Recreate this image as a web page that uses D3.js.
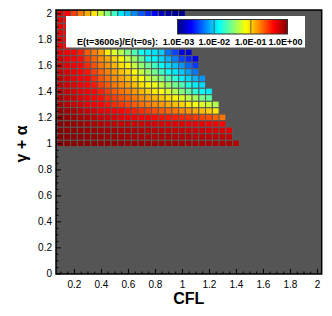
<!DOCTYPE html>
<html><head><meta charset="utf-8">
<script src="https://cdn.jsdelivr.net/npm/d3@7/dist/d3.min.js"></script>
<style>body{margin:0;background:#fff}svg{display:block}</style>
</head><body><svg id="c" width="332" height="316"></svg>
<script>
// CFL categories (cell centres) and gamma+alpha rows
const cfl = [0.1,0.15,0.2,0.25,0.3,0.35,0.4,0.45,0.5,0.55,0.6,0.65,0.7,0.75,0.8,0.85,0.9,0.95,1.0,1.05,1.1,1.15,1.2,1.25,1.3,1.35,1.4];
const gammaAlpha = [1.0,1.05,1.1,1.15,1.2,1.25,1.3,1.35,1.4,1.45,1.5,1.55,1.6,1.65,1.7,1.75,1.8,1.85,1.9,1.95,2.0];

// log10( E(t=3600s)/E(t=0s) ) per row, starting at CFL 0.1
const logE_100 = [-0.02,-0.02,-0.03,-0.03,-0.04,-0.04,-0.05,-0.05,-0.06,-0.06,-0.07,-0.07,-0.08,-0.08,-0.09,-0.09,-0.1,-0.1,-0.11,-0.11,-0.12,-0.12,-0.13,-0.13,-0.14,-0.14,-0.15];
const logE_105 = [-0.02,-0.03,-0.04,-0.05,-0.06,-0.07,-0.08,-0.09,-0.1,-0.11,-0.12,-0.13,-0.14,-0.14,-0.15,-0.15,-0.16,-0.16,-0.17,-0.17,-0.18,-0.18,-0.19,-0.19,-0.2,-0.2];
const logE_110 = [-0.02,-0.04,-0.05,-0.06,-0.07,-0.08,-0.09,-0.1,-0.11,-0.12,-0.13,-0.14,-0.15,-0.16,-0.17,-0.18,-0.19,-0.2,-0.21,-0.22,-0.23,-0.24,-0.25,-0.26,-0.27,-0.28];
const logE_115 = [-0.03,-0.05,-0.07,-0.09,-0.11,-0.13,-0.15,-0.17,-0.19,-0.2,-0.21,-0.22,-0.23,-0.24,-0.25,-0.26,-0.27,-0.28,-0.29,-0.3,-0.31,-0.32,-0.33,-0.35,-0.37];
const logE_120 = [-0.04,-0.07,-0.1,-0.13,-0.16,-0.19,-0.22,-0.25,-0.28,-0.31,-0.33,-0.35,-0.37,-0.38,-0.4,-0.42,-0.44,-0.46,-0.48,-0.5,-0.53,-0.56,-0.6,-0.66,-0.72];
const logE_125 = [-0.06,-0.1,-0.14,-0.18,-0.22,-0.26,-0.3,-0.33,-0.36,-0.38,-0.42,-0.46,-0.5,-0.55,-0.6,-0.64,-0.68,-0.72,-0.77,-0.82,-0.87,-0.93,-0.99,-1.05];
const logE_130 = [-0.11,-0.17,-0.22,-0.27,-0.32,-0.35,-0.38,-0.43,-0.49,-0.53,-0.58,-0.64,-0.7,-0.74,-0.79,-0.82,-0.88,-0.94,-1.0,-1.07,-1.16,-1.23,-1.28,-1.35];
const logE_135 = [-0.13,-0.19,-0.24,-0.29,-0.33,-0.38,-0.41,-0.5,-0.55,-0.61,-0.67,-0.73,-0.79,-0.85,-0.91,-0.97,-1.03,-1.1,-1.22,-1.31,-1.4,-1.52,-1.6];
const logE_140 = [-0.15,-0.21,-0.26,-0.32,-0.36,-0.38,-0.46,-0.55,-0.64,-0.7,-0.76,-0.82,-0.91,-0.99,-1.07,-1.14,-1.23,-1.35,-1.49,-1.6,-1.75,-1.86,-1.93];
const logE_145 = [-0.17,-0.24,-0.29,-0.34,-0.38,-0.43,-0.55,-0.64,-0.73,-0.79,-0.85,-0.94,-1.03,-1.1,-1.19,-1.3,-1.42,-1.54,-1.65,-1.8,-1.92,-1.98];
const logE_150 = [-0.19,-0.25,-0.31,-0.36,-0.38,-0.49,-0.61,-0.7,-0.79,-0.85,-0.94,-1.03,-1.14,-1.28,-1.38,-1.5,-1.63,-1.75,-1.92,-2.0,-2.09,-2.18];
const logE_155 = [-0.2,-0.26,-0.32,-0.37,-0.43,-0.55,-0.67,-0.76,-0.84,-0.94,-1.02,-1.14,-1.3,-1.42,-1.55,-1.7,-1.85,-1.95,-2.03,-2.15,-2.27];
const logE_160 = [-0.22,-0.29,-0.34,-0.38,-0.49,-0.61,-0.73,-0.81,-0.91,-1.03,-1.14,-1.3,-1.45,-1.57,-1.7,-1.88,-1.97,-2.06,-2.18,-2.33,-2.45];
const logE_165 = [-0.25,-0.32,-0.36,-0.4,-0.55,-0.67,-0.79,-0.88,-1.0,-1.1,-1.28,-1.42,-1.58,-1.85,-1.9,-1.99,-2.1,-2.25,-2.43,-2.53,-2.7];
const logE_170 = [-0.28,-0.34,-0.36,-0.46,-0.64,-0.74,-0.86,-1.07,-1.23,-1.35,-1.5,-1.65,-1.83,-1.92,-1.96,-2.03,-2.3,-2.43,-2.71,-2.77];
const logE_175 = [-0.29,-0.37];
const logE_180 = [-0.29,-0.37];
const logE_185 = [-0.3,-0.38];
const logE_190 = [-0.3,-0.38];
const logE_195 = [-0.3,-0.38];
const logE_200 = [-0.3,-0.38,-0.55,-0.73,-0.88,-1.05,-1.29,-1.5,-1.7,-1.95,-2.07,-2.22,-2.37,-2.5,-2.63,-2.82,-2.88,-2.94,-2.96];

const xTicks = [0.2,0.4,0.6,0.8,1,1.2,1.4,1.6,1.8,2];
const yTicks = [0,0.2,0.4,0.6,0.8,1,1.2,1.4,1.6,1.8,2];
const legendExps = [-3,-2,-1,0];
const legendLabels = ["1.0E-03","1.0E-02","1.0E-01","1.0E+00"];
const legendTitle = "E(t=3600s)/E(t=0s):";

const rows = [logE_100,logE_105,logE_110,logE_115,logE_120,logE_125,logE_130,logE_135,logE_140,logE_145,logE_150,
              logE_155,logE_160,logE_165,logE_170,logE_175,logE_180,logE_185,logE_190,logE_195,logE_200];

const FONT = "'Liberation Sans', Arial, Helvetica, sans-serif";
const svg = d3.select("#c");
const x = d3.scaleLinear().domain([0.067, 2.035]).range([56, 321.7]);
const y = d3.scaleLinear().domain([-0.005, 2.026]).range([274, 10]);
const jet = d3.scaleLinear()
  .domain([-3, -2.625, -1.875, -1.125, -0.375, 0])
  .range(["#000080", "#0000ff", "#00ffff", "#ffff00", "#ff0000", "#800000"])
  .clamp(true);

const L = x.range()[0], R = x.range()[1], T = y.range()[1], B = y.range()[0];

svg.append("defs").append("clipPath").attr("id", "pc")
  .append("rect").attr("x", L).attr("y", T).attr("width", R - L).attr("height", B - T);

svg.append("rect").attr("x", L).attr("y", T).attr("width", R - L).attr("height", B - T).attr("fill", "#555555");

const cells = [];
gammaAlpha.forEach((g, i) => rows[i].forEach((v, j) => cells.push({ c: cfl[j], g, v })));
const hw = 0.025;
svg.append("g").attr("clip-path", "url(#pc)").selectAll("rect").data(cells).join("rect")
  .attr("x", d => x(d.c - hw)).attr("width", d => x(d.c + hw) - x(d.c - hw))
  .attr("y", d => y(d.g + hw)).attr("height", d => y(d.g - hw) - y(d.g + hw))
  .attr("fill", d => jet(d.v)).attr("stroke", "#5a5a5a").attr("stroke-width", 1);

const fmt = d => String(+d.toFixed(1));
const xMinor = d3.range(2, 41).map(k => k * 0.05).filter(v => Math.abs(v / 0.2 - Math.round(v / 0.2)) > 1e-6);
const yMinor = d3.range(1, 40).map(k => k * 0.05).filter(v => Math.abs(v / 0.2 - Math.round(v / 0.2)) > 1e-6);

function styleAxis(g) {
  g.select(".domain").remove();
  g.selectAll("line").attr("stroke", "#000").attr("stroke-width", 1);
  g.selectAll("text").attr("font-family", FONT).attr("font-size", 10).attr("fill", "#000");
}
svg.append("g").attr("transform", `translate(0,${B})`)
  .call(d3.axisBottom(x).tickValues(xTicks).tickSize(-5).tickPadding(7).tickFormat(fmt)).call(styleAxis);
svg.append("g").attr("transform", `translate(0,${B})`)
  .call(d3.axisBottom(x).tickValues(xMinor).tickSize(-2.5).tickFormat("")).call(styleAxis);
svg.append("g").attr("transform", `translate(${L},0)`)
  .call(d3.axisLeft(y).tickValues(yTicks).tickSize(-5).tickPadding(4).tickFormat(fmt)).call(styleAxis);
svg.append("g").attr("transform", `translate(${L},0)`)
  .call(d3.axisLeft(y).tickValues(yMinor).tickSize(-2.5).tickFormat("")).call(styleAxis);

svg.append("rect").attr("x", L).attr("y", T).attr("width", R - L).attr("height", B - T)
  .attr("fill", "none").attr("stroke", "#000").attr("stroke-width", 1.5);

// Legend
const lg = svg.append("g");
lg.append("rect").attr("x", 66).attr("y", 16).attr("width", 239).attr("height", 31.5).attr("fill", "#fff");
const lx = d3.scaleLinear().domain([-3, 0]).range([177.5, 287.5]);
const grad = svg.select("defs").append("linearGradient").attr("id", "lgGrad")
  .attr("gradientUnits", "userSpaceOnUse").attr("x1", lx(-3)).attr("x2", lx(0)).attr("y1", 0).attr("y2", 0);
grad.selectAll("stop").data(jet.domain()).join("stop")
  .attr("offset", d => (d + 3) / 3).attr("stop-color", d => jet(d));
lg.append("rect").attr("x", lx(-3)).attr("y", 19.5).attr("width", lx(0) - lx(-3)).attr("height", 14.5)
  .attr("fill", "url(#lgGrad)").attr("stroke", "#333").attr("stroke-width", 1);
lg.selectAll("line.dec").data(legendExps.slice(1, 3)).join("line").attr("class", "dec")
  .attr("x1", d => lx(d)).attr("x2", d => lx(d)).attr("y1", 20).attr("y2", 33.5)
  .attr("stroke", "#444").attr("stroke-width", 0.8);
lg.append("text").attr("x", 77).attr("y", 45).text(legendTitle)
  .attr("font-family", FONT).attr("font-size", 9).attr("font-weight", "bold");
lg.selectAll("text.lab").data(legendExps).join("text").attr("class", "lab")
  .attr("x", (d, i) => lx(d) + (i === 0 ? 1 : i === 3 ? -2 : 0)).attr("y", 45).attr("text-anchor", "middle")
  .text((d, i) => legendLabels[i])
  .attr("font-family", FONT).attr("font-size", 9).attr("font-weight", "bold");

// Axis titles
svg.append("text").attr("x", (L + R) / 2).attr("y", 304).attr("text-anchor", "middle")
  .attr("font-family", FONT).attr("font-size", 16).attr("font-weight", "bold").text("CFL");
svg.append("text").attr("transform", `translate(27,${(T + B) / 2 + 2}) rotate(-90)`).attr("text-anchor", "middle")
  .attr("font-family", FONT).attr("font-size", 16).attr("font-weight", "bold").text("γ + α");
</script></body></html>
